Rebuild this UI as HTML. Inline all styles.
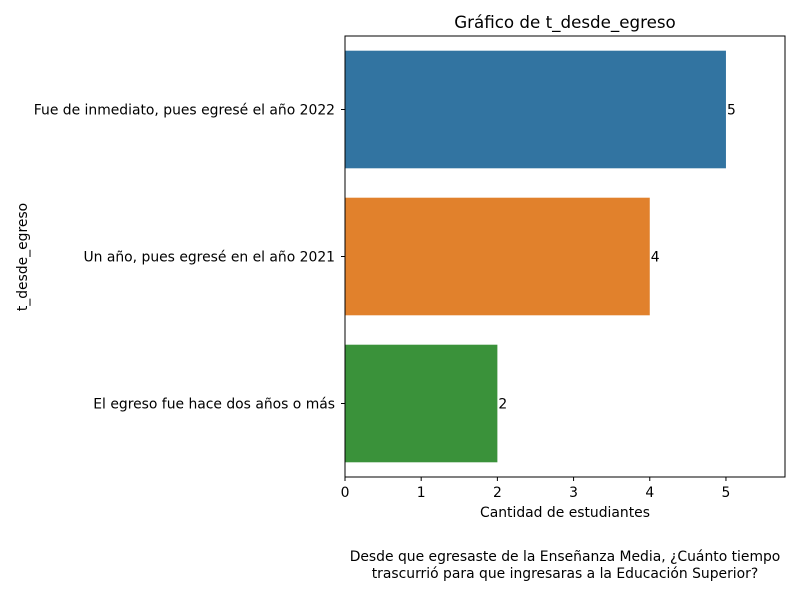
<!DOCTYPE html>
<html><head><meta charset="utf-8"><style>
body{margin:0;background:#fff;font-family:"Liberation Sans","DejaVu Sans",sans-serif;}
svg text{font-family:"DejaVu Sans","Liberation Sans",sans-serif;}
</style></head><body>
<svg id="chart" width="800" height="600" xmlns="http://www.w3.org/2000/svg">
<rect width="800" height="600" fill="#fff"/>
<g id="marks"></g>
<rect x="345" y="36" width="440" height="441" fill="none" stroke="#000" stroke-width="1"/>
<text x="565" y="28" font-size="16.7" text-anchor="middle">Gráfico de t_desde_egreso</text>
<text x="565" y="517" font-size="13.9" text-anchor="middle">Cantidad de estudiantes</text>
<text transform="translate(27,257) rotate(-90)" font-size="13.9" text-anchor="middle">t_desde_egreso</text>
<text x="565" y="561" font-size="13.9" text-anchor="middle">Desde que egresaste de la Enseñanza Media, ¿Cuánto tiempo</text>
<text x="565" y="578" font-size="13.9" text-anchor="middle">trascurrió para que ingresaras a la Educación Superior?</text>
</svg>
<script>
const categories = ["Fue de inmediato, pues egresé el año 2022","Un año, pues egresé en el año 2021","El egreso fue hace dos años o más"];
const values = [5, 4, 2];
const xTicks = [0, 1, 2, 3, 4, 5];
const colors = ["#3274a1", "#e1812c", "#3a923a"];
const L = 345, R = 785, T = 36, B = 477, XMAX = 5.775;
const xs = v => L + v / XMAX * (R - L);
const band = (B - T) / categories.length;
const yc = i => T + band * (i + 0.5);
const g = document.getElementById('marks');
const NS = "http://www.w3.org/2000/svg";
function mk(tag, attrs, txt) {
  const e = document.createElementNS(NS, tag);
  for (const k in attrs) e.setAttribute(k, attrs[k]);
  if (txt !== undefined) e.textContent = txt;
  g.appendChild(e);
  return e;
}
categories.forEach((c, i) => {
  const h = band * 0.8;
  const r = mk('rect', {x: xs(0), y: yc(i) - h / 2, width: xs(values[i]) - xs(0), height: h, fill: colors[i]});
  
  
  const v = mk('text', {x: xs(values[i]) + 1, y: yc(i) + 5, 'font-size': 13.9}, String(values[i]));
  
  
  const t = mk('line', {x1: L - 4, x2: L, y1: yc(i), y2: yc(i), stroke: '#000'});
  
  
  const l = mk('text', {x: L - 10, y: yc(i) + 5, 'font-size': 13.9, 'text-anchor': 'end'}, c);
  
  
});
xTicks.forEach(v => {
  const t = mk('line', {x1: xs(v), x2: xs(v), y1: B, y2: B + 4, stroke: '#000'});
  
  
  const l = mk('text', {x: xs(v), y: B + 20, 'font-size': 13.9, 'text-anchor': 'middle'}, String(v));
  
  
});
</script>
</body></html>
